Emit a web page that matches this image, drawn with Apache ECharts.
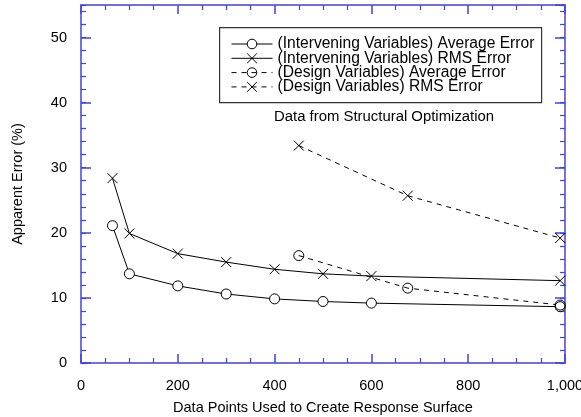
<!DOCTYPE html>
<html>
<head>
<meta charset="utf-8">
<script src="https://cdn.jsdelivr.net/npm/echarts@6/dist/echarts.min.js"></script>
<style>
  html, body { margin: 0; padding: 0; background: #fff; }
  #chart { width: 581px; height: 417px; }
</style>
</head>
<body>
<div id="chart"></div>
<script>
// Sample counts (x) and apparent error in percent (y) for each fit
const intervAvgX = [65, 100, 200, 300, 400, 500, 600, 990];
const intervAvgY = [21.1, 13.7, 11.85, 10.6, 9.85, 9.45, 9.2, 8.65];
const intervRmsX = [65, 100, 200, 300, 400, 500, 600, 990];
const intervRmsY = [28.4, 19.9, 16.8, 15.5, 14.4, 13.7, 13.35, 12.65];
const designAvgX = [450, 675, 990];
const designAvgY = [16.5, 11.5, 8.9];
const designRmsX = [450, 675, 990];
const designRmsY = [33.4, 25.7, 19.2];

const seriesNames = [
  '(Intervening Variables) Average Error',
  '(Intervening Variables) RMS Error',
  '(Design Variables) Average Error',
  '(Design Variables) RMS Error'
];
const xTitle = 'Data Points Used to Create Response Surface';
const yTitle = 'Apparent Error (%)';
const note = 'Data from Structural Optimization';

const FONT = 'Arial, "Liberation Sans", Helvetica, sans-serif';
const AXIS_BLUE = '#4343df';
const CROSS = 'path://M0,0L10,10M10,0L0,10';

const zip = (xs, ys) => xs.map((x, i) => [x, ys[i]]);

const chart = echarts.init(document.getElementById('chart'), null, { renderer: 'canvas' });

function xAxisDef(pos, showLabels) {
  return {
    type: 'value', position: pos, min: 0, max: 1000, interval: 200,
    axisLine: { show: true, onZero: false, lineStyle: { color: AXIS_BLUE, width: 1.5 } },
    axisTick: { show: true, inside: true, length: 9, lineStyle: { color: AXIS_BLUE, width: 1.5 } },
    minorTick: { show: true, splitNumber: 4, length: 5, lineStyle: { color: AXIS_BLUE, width: 1.2 } },
    splitLine: { show: false },
    axisLabel: {
      show: showLabels, margin: 15, color: '#000', fontFamily: FONT, fontSize: 14.5,
      formatter: v => v.toLocaleString('en-US')
    },
    name: showLabels ? xTitle : '',
    nameLocation: 'middle', nameGap: 37,
    nameTextStyle: { color: '#000', fontFamily: FONT, fontSize: 14.5 }
  };
}

function yAxisDef(pos, interval, tickLen, major) {
  return {
    type: 'value', position: pos, min: 0, max: 55, interval: interval,
    axisLine: { show: major, onZero: false, lineStyle: { color: AXIS_BLUE, width: 1.5 } },
    axisTick: { show: true, inside: true, length: tickLen, lineStyle: { color: AXIS_BLUE, width: major ? 1.5 : 1.2 } },
    splitLine: { show: false },
    axisLabel: {
      show: major && pos === 'left', margin: 14, color: '#000', fontFamily: FONT, fontSize: 14.5,
      showMaxLabel: false
    },
    name: (major && pos === 'left') ? yTitle : '',
    nameLocation: 'middle', nameGap: 56,
    nameTextStyle: { color: '#000', fontFamily: FONT, fontSize: 14.5 }
  };
}

const option = {
  backgroundColor: '#fff',
  animation: false,
  grid: { left: 81, right: 16, top: 5, bottom: 54, containLabel: false, outerBoundsMode: 'none' },
  xAxis: [xAxisDef('bottom', true), xAxisDef('top', false)],
  yAxis: [
    yAxisDef('left', 10, 10, true),
    yAxisDef('left', 2, 5, false),
    yAxisDef('right', 10, 10, true),
    yAxisDef('right', 2, 5, false)
  ],
  legend: {
    orient: 'vertical', left: 231, top: 36, padding: 0,
    itemWidth: 41, itemHeight: 12, itemGap: -1.7,
    lineStyle: { width: 1 },
    itemStyle: { borderWidth: 1 },
    textStyle: { color: '#000', fontFamily: FONT, fontSize: 15.6, lineHeight: 14 },
    data: seriesNames
  },
  graphic: [
    {
      type: 'rect', left: 219, top: 27, z: -1,
      shape: { width: 322, height: 75 },
      style: { fill: '#fff', stroke: '#333', lineWidth: 1.2 }
    },
    {
      type: 'text', left: 274, top: 109,
      style: { text: note, fill: '#000', font: '14.9px ' + FONT }
    }
  ],
  series: [
    {
      name: seriesNames[0], type: 'line', data: zip(intervAvgX, intervAvgY),
      symbol: 'circle', symbolSize: 10,
      lineStyle: { color: '#000', width: 1 },
      itemStyle: { color: '#fff', borderColor: '#000', borderWidth: 1 }
    },
    {
      name: seriesNames[1], type: 'line', data: zip(intervRmsX, intervRmsY),
      symbol: CROSS, symbolSize: 10,
      lineStyle: { color: '#000', width: 1 },
      itemStyle: { color: 'rgba(0,0,0,0)', borderColor: '#000', borderWidth: 1 }
    },
    {
      name: seriesNames[2], type: 'line', data: zip(designAvgX, designAvgY),
      symbol: 'circle', symbolSize: 10,
      lineStyle: { color: '#000', width: 1, type: [5, 5] },
      itemStyle: { color: 'rgba(0,0,0,0)', borderColor: '#000', borderWidth: 1 }
    },
    {
      name: seriesNames[3], type: 'line', data: zip(designRmsX, designRmsY),
      symbol: CROSS, symbolSize: 10,
      lineStyle: { color: '#000', width: 1, type: [5, 5] },
      itemStyle: { color: 'rgba(0,0,0,0)', borderColor: '#000', borderWidth: 1 }
    }
  ]
};

chart.setOption(option);
</script>
</body>
</html>
